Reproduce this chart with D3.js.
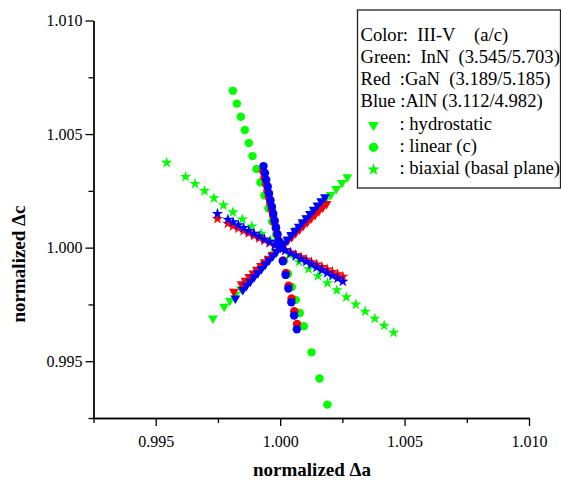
<!DOCTYPE html>
<html>
<head>
<meta charset="utf-8">
<script src="https://cdn.jsdelivr.net/npm/d3@7"></script>
<style>
  html, body { margin: 0; padding: 0; background: #fff; }
  svg { display: block; font-family: "Liberation Serif", "Times New Roman", serif; }
</style>
</head>
<body>
<svg id="chart" width="561" height="480"></svg>
<script>
// axis settings
const xDomain = [0.9925, 1.010];
const yDomain = [0.9925, 1.010];
const majorTicks = [0.995, 1.000, 1.005, 1.010];
const minorTicks = [0.9925, 0.9975, 1.0025, 1.0075];

// [normalized a, normalized c]
// InN (green)
const innHydro = [
  [0.99730, 0.99689], [0.99775, 0.99741], [0.99798, 0.99767], [0.99820, 0.99793],
  [0.99843, 0.99819], [0.99865, 0.99845], [0.99888, 0.99871], [0.99910, 0.99896],
  [0.99933, 0.99922], [0.99955, 0.99948], [0.99978, 0.99974], [1.00000, 1.00000],
  [1.00023, 1.00026], [1.00045, 1.00052], [1.00068, 1.00078], [1.00090, 1.00104],
  [1.00113, 1.00130], [1.00135, 1.00155], [1.00158, 1.00181], [1.00180, 1.00207],
  [1.00203, 1.00233], [1.00225, 1.00259], [1.00248, 1.00285], [1.00270, 1.00311]
];
const innLinear = [
  [0.99810, 1.00691], [0.99826, 1.00634], [0.99842, 1.00576], [0.99858, 1.00518],
  [0.99874, 1.00461], [0.99889, 1.00403], [0.99905, 1.00346], [0.99921, 1.00288],
  [0.99937, 1.00230], [0.99953, 1.00173], [0.99968, 1.00115], [0.99984, 1.00058],
  [1.00000, 1.00000], [1.00016, 0.99942], [1.00032, 0.99885], [1.00047, 0.99827],
  [1.00063, 0.99770], [1.00079, 0.99712], [1.00095, 0.99654], [1.00126, 0.99539],
  [1.00158, 0.99424], [1.00190, 0.99309]
];
const innBiaxial = [
  [0.99544, 1.00374], [0.99620, 1.00312], [0.99658, 1.00281], [0.99696, 1.00250],
  [0.99734, 1.00218], [0.99772, 1.00187], [0.99810, 1.00156], [0.99848, 1.00125],
  [0.99886, 1.00094], [0.99924, 1.00062], [0.99962, 1.00031], [1.00000, 1.00000],
  [1.00038, 0.99969], [1.00076, 0.99938], [1.00114, 0.99906], [1.00152, 0.99875],
  [1.00190, 0.99844], [1.00228, 0.99813], [1.00266, 0.99782], [1.00304, 0.99750],
  [1.00342, 0.99719], [1.00380, 0.99688], [1.00418, 0.99657], [1.00456, 0.99626]
];

// GaN (red)
const ganHydro = [
  [0.99814, 0.99807], [0.99845, 0.99839], [0.99861, 0.99855], [0.99876, 0.99871],
  [0.99892, 0.99887], [0.99907, 0.99903], [0.99923, 0.99920], [0.99938, 0.99936],
  [0.99954, 0.99952], [0.99969, 0.99968], [0.99985, 0.99984], [1.00000, 1.00000],
  [1.00016, 1.00016], [1.00031, 1.00032], [1.00047, 1.00048], [1.00062, 1.00064],
  [1.00078, 1.00081], [1.00093, 1.00097], [1.00109, 1.00113], [1.00124, 1.00129],
  [1.00140, 1.00145], [1.00155, 1.00161], [1.00171, 1.00177], [1.00186, 1.00193]
];
const ganLinear = [
  [0.99932, 1.00336], [0.99937, 1.00308], [0.99943, 1.00280], [0.99949, 1.00252],
  [0.99954, 1.00224], [0.99960, 1.00196], [0.99966, 1.00168], [0.99972, 1.00140],
  [0.99977, 1.00112], [0.99983, 1.00084], [0.99989, 1.00056], [0.99994, 1.00028],
  [1.00000, 1.00000], [1.00011, 0.99944], [1.00023, 0.99888], [1.00034, 0.99832],
  [1.00046, 0.99776], [1.00057, 0.99720], [1.00068, 0.99664]
];
const ganBiaxial = [
  [0.99748, 1.00127], [0.99790, 1.00106], [0.99811, 1.00095], [0.99832, 1.00085],
  [0.99853, 1.00074], [0.99874, 1.00064], [0.99895, 1.00053], [0.99916, 1.00042],
  [0.99937, 1.00032], [0.99958, 1.00021], [0.99979, 1.00011], [1.00000, 1.00000],
  [1.00021, 0.99989], [1.00042, 0.99979], [1.00063, 0.99968], [1.00084, 0.99958],
  [1.00105, 0.99947], [1.00126, 0.99936], [1.00147, 0.99926], [1.00168, 0.99915],
  [1.00189, 0.99905], [1.00210, 0.99894], [1.00231, 0.99883], [1.00252, 0.99873]
];

// AlN (blue)
const alnHydro = [
  [0.99820, 0.99777], [0.99850, 0.99814], [0.99865, 0.99833], [0.99880, 0.99851],
  [0.99895, 0.99870], [0.99910, 0.99888], [0.99925, 0.99907], [0.99940, 0.99926],
  [0.99955, 0.99944], [0.99970, 0.99963], [0.99985, 0.99981], [1.00000, 1.00000],
  [1.00015, 1.00019], [1.00030, 1.00037], [1.00045, 1.00056], [1.00060, 1.00074],
  [1.00075, 1.00093], [1.00090, 1.00112], [1.00105, 1.00130], [1.00120, 1.00149],
  [1.00135, 1.00167], [1.00150, 1.00186], [1.00165, 1.00205], [1.00180, 1.00223]
];
const alnLinear = [
  [0.99933, 1.00359], [0.99939, 1.00329], [0.99944, 1.00299], [0.99950, 1.00269],
  [0.99955, 1.00239], [0.99961, 1.00209], [0.99967, 1.00180], [0.99972, 1.00150],
  [0.99978, 1.00120], [0.99983, 1.00090], [0.99989, 1.00060], [0.99994, 1.00030],
  [1.00000, 1.00000], [1.00011, 0.99940], [1.00022, 0.99880], [1.00033, 0.99820],
  [1.00045, 0.99760], [1.00056, 0.99701], [1.00067, 0.99641]
];
const alnBiaxial = [
  [0.99748, 1.00149], [0.99790, 1.00124], [0.99811, 1.00112], [0.99832, 1.00099],
  [0.99853, 1.00087], [0.99874, 1.00074], [0.99895, 1.00062], [0.99916, 1.00050],
  [0.99937, 1.00037], [0.99958, 1.00025], [0.99979, 1.00012], [1.00000, 1.00000],
  [1.00021, 0.99988], [1.00042, 0.99975], [1.00063, 0.99963], [1.00084, 0.99950],
  [1.00105, 0.99938], [1.00126, 0.99926], [1.00147, 0.99913], [1.00168, 0.99901],
  [1.00189, 0.99888], [1.00210, 0.99876], [1.00231, 0.99864], [1.00252, 0.99851]
];

const legendLines = [
  'Color:\u00a0\u00a0III-V\u00a0\u00a0\u00a0\u00a0(a/c)',
  'Green:\u00a0\u00a0InN\u00a0\u00a0(3.545/5.703)',
  'Red\u00a0\u00a0:GaN\u00a0\u00a0(3.189/5.185)',
  'Blue\u00a0:AlN\u00a0(3.112/4.982)'
];
const legendMarkers = [
  { kind: 'hydro', label: ': hydrostatic' },
  { kind: 'linear', label: ': linear (c)' },
  { kind: 'biaxial', label: ': biaxial (basal plane)' }
];

const GREEN = '#00ff00', RED = '#ff0000', BLUE = '#0000ff';

const seriesList = [
  { data: innLinear, kind: 'linear', color: GREEN },
  { data: innHydro, kind: 'hydro', color: GREEN },
  { data: innBiaxial, kind: 'biaxial', color: GREEN },
  { data: ganLinear, kind: 'linear', color: RED },
  { data: ganHydro, kind: 'hydro', color: RED },
  { data: ganBiaxial, kind: 'biaxial', color: RED },
  { data: alnLinear, kind: 'linear', color: BLUE },
  { data: alnHydro, kind: 'hydro', color: BLUE },
  { data: alnBiaxial, kind: 'biaxial', color: BLUE }
];

const margin = { top: 20.5, right: 32, bottom: 62, left: 93.5 };
const width = 561 - margin.left - margin.right;
const height = 480 - margin.top - margin.bottom;

const svg = d3.select('#chart');
svg.append('rect').attr('width', 561).attr('height', 480).attr('fill', '#fff');

const g = svg.append('g')
  .attr('transform', `translate(${margin.left},${margin.top})`);

const x = d3.scaleLinear().domain(xDomain).range([0, width]);
const y = d3.scaleLinear().domain(yDomain).range([height, 0]);

// marker shapes
function markerPath(kind, big) {
  const s = big ? 1.2 : 1;
  if (kind === 'hydro') return d3.symbol(d3.symbolTriangle, 42 * s)();
  if (kind === 'linear') return d3.symbol(d3.symbolCircle, 56 * s)();
  return d3.symbol(d3.symbolStar, 40 * s)();
}
function markerTransform(kind, px, py) {
  return kind === 'hydro' ? `translate(${px},${py}) rotate(180)` : `translate(${px},${py})`;
}

// data points
seriesList.forEach(s => {
  g.append('g').selectAll('path')
    .data(s.data)
    .enter()
    .append('path')
    .attr('d', markerPath(s.kind, false))
    .attr('transform', d => markerTransform(s.kind, x(d[0]), y(d[1])))
    .attr('fill', s.color);
});

// axes
function styleAxis(sel) {
  sel.select('.domain').attr('stroke', '#000').attr('stroke-width', 1.3);
  sel.selectAll('.tick line').attr('stroke', '#000').attr('stroke-width', 1.3);
  sel.selectAll('text').attr('fill', '#000').attr('font-size', '16px')
    .attr('font-family', '"Liberation Serif", "Times New Roman", serif');
}

g.append('g')
  .attr('transform', `translate(0,${height})`)
  .call(d3.axisBottom(x).tickValues(minorTicks).tickSize(5).tickSizeOuter(0).tickFormat(''))
  .call(styleAxis);
g.append('g')
  .attr('transform', `translate(0,${height})`)
  .call(d3.axisBottom(x).tickValues(majorTicks).tickSize(8).tickSizeOuter(0)
    .tickPadding(10).tickFormat(d3.format('.3f')))
  .call(styleAxis);

g.append('g')
  .call(d3.axisLeft(y).tickValues(minorTicks).tickSize(5).tickSizeOuter(0).tickFormat(''))
  .call(styleAxis);
g.append('g')
  .call(d3.axisLeft(y).tickValues(majorTicks).tickSize(8).tickSizeOuter(0)
    .tickPadding(3).tickFormat(d3.format('.3f')))
  .call(styleAxis);

// axis titles
svg.append('text')
  .attr('x', 312)
  .attr('y', 476)
  .attr('text-anchor', 'middle')
  .attr('font-size', '19px')
  .attr('font-weight', 'bold')
  .text('normalized \u0394a');

svg.append('text')
  .attr('transform', 'translate(25,264) rotate(-90)')
  .attr('text-anchor', 'middle')
  .attr('font-size', '19px')
  .attr('font-weight', 'bold')
  .text('normalized \u0394c');

// legend box
const legend = svg.append('g').attr('transform', 'translate(357.5,10)');
legend.append('rect')
  .attr('width', 203)
  .attr('height', 178)
  .attr('fill', '#fff')
  .attr('stroke', '#222')
  .attr('stroke-width', 1.3);

legend.selectAll('text.head')
  .data(legendLines)
  .enter()
  .append('text')
  .attr('class', 'head')
  .attr('x', 3)
  .attr('y', (d, i) => 30.5 + i * 22.3)
  .attr('font-size', '18.6px')
  .text(d => d);

legendMarkers.forEach((m, i) => {
  const cy = 115 + i * 22.3;
  legend.append('path')
    .attr('d', markerPath(m.kind, true))
    .attr('transform', markerTransform(m.kind, 16, cy))
    .attr('fill', GREEN);
  legend.append('text')
    .attr('x', 42)
    .attr('y', 119.5 + i * 22.3)
    .attr('font-size', '18.6px')
    .text(m.label);
});
</script>
</body>
</html>
